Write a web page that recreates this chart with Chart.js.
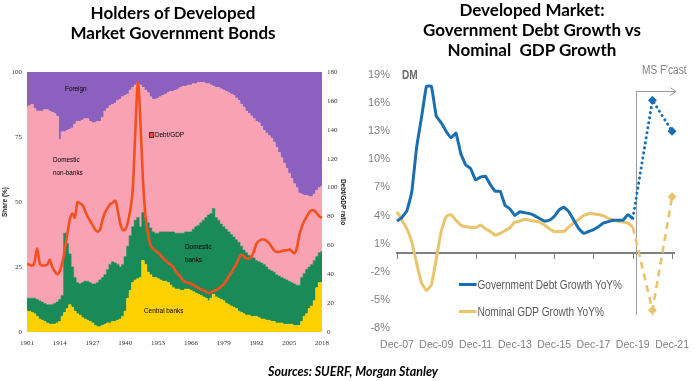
<!DOCTYPE html>
<html><head><meta charset="utf-8">
<script src="https://cdn.jsdelivr.net/npm/chart.js@4/dist/chart.umd.min.js"></script>
<style>
html,body{margin:0;padding:0;background:#fff;}
body{width:700px;height:381px;position:relative;overflow:hidden;font-family:'Liberation Sans',Arial,sans-serif;}
.abs{position:absolute;white-space:nowrap;z-index:2;}
#w1{position:absolute;left:0;top:0;width:352px;height:381px;z-index:1;}
#w2{position:absolute;left:352px;top:0;width:348px;height:381px;z-index:1;}
.title{font-family:Lato,'Open Sans',sans-serif;font-weight:700;font-size:17px;color:#000;text-align:center;}
.ann{font-family:'Liberation Sans',Arial,sans-serif;font-size:7.5px;color:#000;line-height:13px;transform:scaleX(0.85);transform-origin:left top;}
.nar{font-family:'Liberation Sans',Arial,sans-serif;color:#7f7f7f;font-size:12px;transform:scaleX(0.84);transform-origin:left top;}
.sw{display:inline-block;width:21px;height:3px;vertical-align:middle;margin-right:1px;position:relative;top:-1px;}
</style></head>
<body>
<div id="w1"><canvas id="c1"></canvas></div>
<div id="w2"><canvas id="c2"></canvas></div>

<div class="abs title" style="left:0;width:346px;top:3px;line-height:19.5px;">Holders of Developed<br>Market Government Bonds</div>
<div class="abs title" style="left:382px;width:300px;top:0px;line-height:20px;">Developed Market:<br>Government Debt Growth vs<br>Nominal&nbsp; GDP Growth</div>
<div class="abs" style="left:203px;width:300px;top:364px;text-align:center;font-family:Lato,'Open Sans',sans-serif;font-weight:700;font-style:italic;font-size:12.5px;color:#000;">Sources: SUERF, Morgan Stanley</div>

<div class="abs ann" style="left:65px;top:82px;">Foreign</div>
<div class="abs ann" style="left:53px;top:153px;">Domestic<br>non-banks</div>
<div class="abs ann" style="left:149px;top:128px;"><span style="display:inline-block;width:4px;height:4px;background:#f4501e;border:0.8px solid #333;vertical-align:middle;margin-right:1px;"></span>Debt/GDP</div>
<div class="abs ann" style="left:185px;top:240px;">Domestic<br>banks</div>
<div class="abs ann" style="left:144px;top:304px;">Central banks</div>

<div class="abs nar" style="left:402px;top:68px;font-weight:700;font-size:12px;color:#6a6a6a;">DM</div>
<div class="abs nar" style="left:642px;top:63px;">MS F'cast</div>
<div class="abs nar" style="left:459px;top:278px;color:#595959;"><span class="sw" style="background:#1a6fb3"></span>Government Debt Growth YoY%</div>
<div class="abs nar" style="left:459px;top:305px;color:#595959;"><span class="sw" style="background:#e9c46c"></span>Nominal GDP Growth YoY%</div>

<script>
// ---------- LEFT PANEL DATA (shares %, 1901-2018) ----------
const yearTickLabels = ['1901','1914','1927','1940','1953','1966','1979','1992','2005','2018'];
const years = [];
for (let y = 1901; y <= 2018; y++) years.push(String(y));

const centralBanks = [
  8,8,7.5,7,6,5,4.5,4,3.5,3,
  3,3,3.5,4,6,7.5,9,10.5,9.5,8,
  7,6.5,5.5,5,4.5,4,3.5,2.5,2,2,
  2.5,3,3.5,3.5,4,4,4.5,5,6,8,
  13,16,19,20,20.5,21,27.5,26,23,22,
  21,21,20.5,20,19.5,19.5,19,18,17,16.5,
  16.5,16,16,16.5,16.5,16,15.5,15,14.5,14,
  13.5,13,12,13,14.5,13.5,13,12.5,12,11,
  10.5,10,9.5,9,8,7.5,7,6.5,6.5,6,
  6,6,5.5,5,5,4.5,4.5,4,4,3.5,
  3.5,3.5,3,3,3,3,2.5,2.5,2.5,4,
  6,7,9,10,12,17,19,19];
const domesticBanks = [
  5,5,5.5,6,6.5,7,7,7,7,7.5,
  7.5,8,8,8.5,8,30.5,25,19.5,15.5,13,
  12,12,13.5,14.5,15,15,15,16,17,18,
  18.5,19,20.5,22.5,23,22.5,21.5,20,20,21,
  20,21,21.5,23,23.5,19.5,18.5,18,19,18,
  17.5,17,17.5,18.5,19,19,19.5,20.5,21.5,21.5,
  21.5,22,22,22,22,22.5,24,25.5,26.5,28,
  29.5,31,33,32.5,33,30.5,30,29,28.5,28.5,
  28,27.5,27,26.5,26.5,25.5,24.5,24,23,23,
  22.5,21.5,21.5,21.5,21,20.5,19.5,19.5,19,18.5,
  18,17.5,17.5,17,16.5,16,16,15.5,15.5,17,
  16.5,17,16,16,15.5,12,11.5,12];
const nonBanks = [
  73.5,74,74.5,73,72.5,73,73.5,74.5,75,74.5,
  74,73,71.5,61.5,63,39,43.5,48,53.5,59,
  62,62.5,62.5,62.5,62.5,62,62,62,62,61,
  61.5,63,62,61,60.5,61.5,63,64.5,64.5,62,
  58.5,56,53.5,52,51.5,54.5,48,49,50,50.5,
  51,51.5,52,52,52.5,53,53.5,54,54,55,
  55.5,56,56.5,56,56.5,56.5,56,55,55,54,
  53,51.5,50.5,49.5,47,50,51,52,52.5,53,
  53.5,54,54.5,54.5,54.5,54.5,55,54.5,54.5,54,
  53.5,53.5,53.5,52.5,51.5,51.5,51.5,51,50,49,
  47.5,46,44.5,43,41.5,40,38.5,37.5,35.5,32,
  30,28.5,27,26,25.5,25.5,25,25];
const foreign = [
  13.5,13,12.5,14,15,15,15,14.5,14.5,15,
  15.5,16,17,26,23,23,22.5,22,21.5,20,
  19,19,18.5,18,18,19,19.5,19.5,19,19,
  17.5,15,14,13,12.5,12,11,10.5,9.5,9,
  8.5,7,6,5,4.5,5,6,7,8,9.5,
  10.5,10.5,10,9.5,9,8.5,8,7.5,7.5,7,
  6.5,6,5.5,5.5,5,5,4.5,4.5,4,4,
  4,4.5,4.5,5,5.5,6,6,6.5,7,7.5,
  8,8.5,9,10,11,12.5,13.5,15,16,17,
  18,19,19.5,21,22.5,23.5,24.5,25.5,27,29,
  31,33,35,37,39,41,43,44.5,46.5,47,
  47.5,47.5,48,48,47,45.5,44.5,44];
const debtToGdp = [
  47,46.5,46,48,58,48,46,46,46.5,50,
  45,42,40,42,48,57,68,78,82,79,
  90,89,88,84,80,77,74,71,69.5,71,
  78,83,86,88.5,89.5,91,84,75,70.5,71,
  76,85,100,140,173,145,105,80,68,60,
  58,56,55,53,51,49.5,48,46.5,45,42,
  40,38,35.5,34.5,34,33.5,32.5,31.5,30.5,29.5,
  29,28,27,27.5,28.5,29,30,31.5,33,35.5,
  38.5,41,44,47,51,53.5,52.5,51,51,52,
  56,61,63,64,64,63,61.5,59,56.5,55.5,
  55.5,56,56.5,56.5,57,56,54.5,58,67,73,
  77,80,83,84.5,84,82,80,79];

// ---------- RIGHT PANEL DATA (YoY %, quarterly) ----------
const quarterLabels = ['Dec-07','Mar-08','Jun-08','Sep-08','Dec-08','Mar-09','Jun-09','Sep-09','Dec-09','Mar-10','Jun-10','Sep-10','Dec-10','Mar-11','Jun-11','Sep-11','Dec-11','Mar-12','Jun-12','Sep-12','Dec-12','Mar-13','Jun-13','Sep-13','Dec-13','Mar-14','Jun-14','Sep-14','Dec-14','Mar-15','Jun-15','Sep-15','Dec-15','Mar-16','Jun-16','Sep-16','Dec-16','Mar-17','Jun-17','Sep-17','Dec-17','Mar-18','Jun-18','Sep-18','Dec-18','Mar-19','Jun-19','Sep-19','Dec-19','Mar-20','Jun-20','Sep-20','Dec-20','Mar-21','Jun-21','Sep-21','Dec-21'];
const xTickLabels = ['Dec-07','Dec-09','Dec-11','Dec-13','Dec-15','Dec-17','Dec-19','Dec-21'];
const yTickValues = [-8,-5,-2,1,4,7,10,13,16,19];
const govDebtGrowth = [
  3.4,3.8,4.5,6.5,11.3,14.5,17.8,17.8,14.6,13.9,
  13.0,12.3,12.8,10.6,9.4,9.0,7.8,8.1,8.2,7.3,
  6.6,6.6,5.1,4.7,4.0,4.4,4.3,4.2,4.0,3.7,
  3.4,3.5,3.9,4.6,4.9,4.4,3.5,2.6,2.1,2.3,
  2.5,2.8,3.2,3.35,3.5,3.5,3.5,4.1,3.7];
const nominalGdpGrowth = [
  4.4,3.5,2.6,1.2,-1.1,-3.2,-4.0,-3.4,-0.6,2.3,
  3.9,4.1,3.5,3.0,2.8,2.75,2.7,3.0,2.6,2.3,
  1.9,2.1,2.4,2.7,3.3,3.4,3.6,3.5,3.4,3.3,
  3.0,2.6,2.3,2.3,2.3,2.8,3.2,3.6,4.0,4.2,
  4.2,4.1,4.0,3.7,3.5,3.4,3.3,3.2,2.8];
const forecastLabels = ['Dec-19','Dec-20','Dec-21'];
const govDebtForecast = [3.7,16.3,13.0];
const nominalGdpForecast = [2.8,-6.1,6.0];
const FORECAST_START = 48.6;   // category position of the "MS F'cast" marker
const FORECAST_TOP = 17.3, FORECAST_BOTTOM = -6.6;

// ---------- STYLE ----------
const COL = {cb:'#fdd000', db:'#1a8a58', nb:'#f8a2b4', fo:'#8c60be', debt:'#f4501e',
             blue:'#1a6fb3', gold:'#e9c46c', axis:'#7f7f7f'};
const SANS = "'Liberation Sans',Arial,sans-serif";
const tinyFont = {family:"'Liberation Serif',serif", size:7};

function areaDs(label, data, color, fill){
  return {label, data, backgroundColor:color, borderColor:color, borderWidth:0.6, fill,
          stepped:'middle', pointRadius:0, yAxisID:'y'};
}

new Chart(document.getElementById('c1'), {
  type:'line',
  data:{labels:years, datasets:[
    areaDs('Central banks', centralBanks, COL.cb, 'origin'),
    areaDs('Domestic banks', domesticBanks, COL.db, '-1'),
    areaDs('Domestic non-banks', nonBanks, COL.nb, '-1'),
    areaDs('Foreign', foreign, COL.fo, '-1'),
    {label:'Debt/GDP', data:debtToGdp, borderColor:COL.debt, borderWidth:2.6, fill:false,
     cubicInterpolationMode:'monotone', pointRadius:0, yAxisID:'y1', order:-1}
  ]},
  options:{
    responsive:true, maintainAspectRatio:false, animation:false,
    layout:{padding:{top:72,left:0,right:0,bottom:0}},
    plugins:{legend:{display:false}, tooltip:{enabled:false}},
    scales:{
      x:{grid:{display:false, drawTicks:false}, border:{display:false},
         ticks:{autoSkip:false, maxRotation:0, padding:7, font:tinyFont, color:'#333',
                callback:function(v){const l=this.getLabelForValue(v); return yearTickLabels.includes(l)?l:null;}},
         afterFit:s=>{s.height=49;}},
      y:{stacked:true, min:0, max:100, grid:{display:false, drawTicks:false}, border:{display:false},
         ticks:{stepSize:25, padding:5, font:tinyFont, color:'#333'},
         title:{display:true, text:'Share (%)', font:{size:6.5, weight:'bold'}, color:'#222', padding:{top:1,bottom:0}},
         afterFit:s=>{s.width=27;}},
      y1:{position:'right', min:0, max:180, grid:{display:false, drawTicks:false}, border:{display:false},
         ticks:{stepSize:20, padding:5, font:tinyFont, color:'#333'},
         title:{display:true, text:'Debt/GDP ratio', font:{size:6.5, weight:'bold'}, color:'#222', padding:{top:5,bottom:0}},
         afterFit:s=>{s.width=30;}}
    }
  }
});

const rightDecor = {
  id:'rightDecor',
  beforeDatasetsDraw(chart){
    const {ctx, chartArea:a, scales:{x,y}} = chart;
    const y0 = y.getPixelForValue(0);
    ctx.save();
    ctx.strokeStyle = COL.axis;
    ctx.lineWidth = 2;
    ctx.beginPath(); ctx.moveTo(a.left-1, y0); ctx.lineTo(a.right+3, y0); ctx.stroke();
    ctx.lineWidth = 1;
    quarterLabels.forEach((l,i)=>{
      if (xTickLabels.includes(l)) {
        const px = Math.round(x.getPixelForValue(i))+0.5;
        ctx.beginPath(); ctx.moveTo(px, y0); ctx.lineTo(px, y0+6); ctx.stroke();
      }
    });
    // forecast marker
    const fx = Math.round(x.getPixelForValue(FORECAST_START))+0.5;
    const ft = Math.round(y.getPixelForValue(FORECAST_TOP))+0.5;
    const fb = y.getPixelForValue(FORECAST_BOTTOM);
    const fe = a.right+4;
    ctx.strokeStyle = '#9a9a9a';
    ctx.beginPath(); ctx.moveTo(fx, fb); ctx.lineTo(fx, ft); ctx.lineTo(fe, ft); ctx.stroke();
    ctx.beginPath(); ctx.moveTo(fe-6, ft-4); ctx.lineTo(fe, ft); ctx.lineTo(fe-6, ft+4); ctx.stroke();
    ctx.restore();
  }
};

const diamondRadius = c => (c.dataIndex === 0 ? 0 : 4.5);

new Chart(document.getElementById('c2'), {
  type:'line',
  data:{labels:quarterLabels, datasets:[
    {label:'Government Debt Growth YoY%', data:govDebtGrowth, borderColor:COL.blue, borderWidth:3,
     pointRadius:0, fill:false, tension:0.1},
    {label:'Nominal GDP Growth YoY%', data:nominalGdpGrowth, borderColor:COL.gold, borderWidth:3,
     pointRadius:0, fill:false, tension:0.1},
    {label:'Debt forecast', data:forecastLabels.map((l,i)=>({x:l, y:govDebtForecast[i]})),
     borderColor:COL.blue, backgroundColor:COL.blue, borderWidth:3, borderDash:[0.1,5], borderCapStyle:'round',
     pointStyle:'rectRot', pointRadius:diamondRadius, pointBorderWidth:0, fill:false, clip:false},
    {label:'GDP forecast', data:forecastLabels.map((l,i)=>({x:l, y:nominalGdpForecast[i]})),
     borderColor:COL.gold, backgroundColor:COL.gold, borderWidth:2.6, borderDash:[7,5],
     pointStyle:'rectRot', pointRadius:diamondRadius, pointBorderWidth:0, fill:false, clip:false}
  ]},
  options:{
    responsive:true, maintainAspectRatio:false, animation:false,
    layout:{padding:{top:75,left:0,right:17,bottom:0}},
    plugins:{legend:{display:false}, tooltip:{enabled:false}},
    scales:{
      x:{grid:{display:false, drawTicks:false}, border:{display:false},
         ticks:{autoSkip:false, maxRotation:0, padding:11, color:COL.axis, font:{family:SANS, size:10.5},
                callback:function(v){const l=this.getLabelForValue(v); return xTickLabels.includes(l)?l:null;}},
         afterFit:s=>{s.height=53;}},
      y:{min:-8, max:19, grid:{display:false, drawTicks:false}, border:{display:false},
         afterBuildTicks:s=>{s.ticks = yTickValues.map(v=>({value:v}));},
         ticks:{padding:7, color:COL.axis, font:{family:SANS, size:11}, callback:v=>v+'%'},
         afterFit:s=>{s.width=45;}}
    }
  },
  plugins:[rightDecor]
});
</script>
</body></html>
